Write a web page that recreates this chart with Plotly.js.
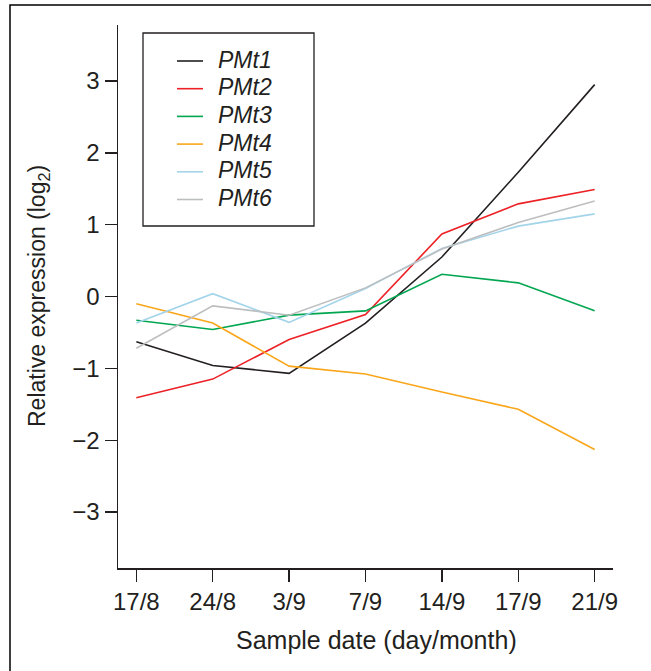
<!DOCTYPE html>
<html>
<head>
<meta charset="utf-8">
<script src="https://cdn.plot.ly/plotly-3.0.1.min.js"></script>
<style>html,body{margin:0;padding:0;background:#fff;}#chart{width:651px;height:671px;}</style>
</head>
<body>
<div id="chart"></div>
<script>
// ---- data ----
const dates = ["17/8", "24/8", "3/9", "7/9", "14/9", "17/9", "21/9"];
const seriesNames = ["PMt1", "PMt2", "PMt3", "PMt4", "PMt5", "PMt6"];
const PMt1 = [-0.63, -0.96, -1.07, -0.37, 0.55, 1.73, 2.95];
const PMt2 = [-1.41, -1.15, -0.60, -0.25, 0.87, 1.29, 1.49];
const PMt3 = [-0.33, -0.46, -0.26, -0.20, 0.31, 0.19, -0.20];
const PMt4 = [-0.10, -0.37, -0.97, -1.08, -1.33, -1.57, -2.13];
const PMt5 = [-0.37, 0.04, -0.36, 0.11, 0.67, 0.98, 1.15];
const PMt6 = [-0.72, -0.13, -0.26, 0.12, 0.66, 1.03, 1.33];
const yTickVals = [-3, -2, -1, 0, 1, 2, 3];
const yTickText = ["\u22123", "\u22122", "\u22121", "0", "1", "2", "3"];

const seriesValues = [PMt1, PMt2, PMt3, PMt4, PMt5, PMt6];
const colors = ["#231f20", "#ec2227", "#00a650", "#f9a61b", "#a3d4ea", "#bcbec0"];

// ---- geometry helpers (pixel -> paper) ----
const W = 651, H = 671;
const M = {l: 118, r: 38, t: 25, b: 103};
const PW = W - M.l - M.r, PH = H - M.t - M.b;
const px = x => (x - M.l) / PW;
const py = y => (H - M.b - y) / PH;

const txtColor = "#231f20";
const fontFam = "Liberation Sans, Arial, sans-serif";

const traces = seriesValues.map((vals, i) => ({
  type: "scatter", mode: "lines", name: seriesNames[i],
  x: dates, y: vals,
  line: {color: colors[i], width: 1.6},
  showlegend: false
}));

const shapes = [
  // outer frame (left + top visible)
  {type: "rect", xref: "paper", yref: "paper", x0: px(10), x1: px(760), y0: py(5), y1: py(760),
   line: {color: "#000", width: 1.5}, layer: "below"},
  // legend box
  {type: "rect", xref: "paper", yref: "paper", x0: px(143), x1: px(314), y0: py(33), y1: py(226),
   line: {color: "#231f20", width: 1.3}}
];
const annotations = [];
seriesNames.forEach((n, i) => {
  const yy = 61 + i * 27.7;
  shapes.push({type: "line", xref: "paper", yref: "paper", x0: px(177), x1: px(203), y0: py(yy), y1: py(yy),
    line: {color: colors[i], width: 1.6}});
  annotations.push({xref: "paper", yref: "paper", x: px(216), y: py(yy - 1.5), xanchor: "left", yanchor: "middle",
    showarrow: false, text: "<i>" + n + "</i>", font: {family: fontFam, size: 23, color: txtColor}});
});
annotations.push({xref: "paper", yref: "paper", x: px(376), y: py(640), xanchor: "center", yanchor: "middle",
  showarrow: false, text: "Sample date (day/month)", font: {family: fontFam, size: 25, color: txtColor}});
annotations.push({xref: "paper", yref: "paper", x: px(39), y: py(296), xanchor: "center", yanchor: "middle",
  textangle: -90, showarrow: false, text: "Relative expression (log<sub>2</sub>)",
  font: {family: fontFam, size: 23, color: txtColor}});

const layout = {
  width: W, height: H,
  margin: M,
  paper_bgcolor: "#fff", plot_bgcolor: "#fff",
  showlegend: false,
  font: {family: fontFam, color: txtColor},
  xaxis: {
    type: "category", range: [-0.24, 6.24],
    showgrid: false, zeroline: false, showline: true, linecolor: txtColor, linewidth: 1.5,
    ticks: "outside", ticklen: 12, tickwidth: 1.3, tickcolor: txtColor,
    tickfont: {family: fontFam, size: 24, color: txtColor}
  },
  yaxis: {
    range: [-3.78, 3.78],
    tickvals: yTickVals, ticktext: yTickText,
    showgrid: false, zeroline: false, showline: true, linecolor: txtColor, linewidth: 1.5,
    ticks: "outside", ticklen: 12, tickwidth: 1.3, tickcolor: txtColor,
    tickfont: {family: fontFam, size: 24, color: txtColor}
  },
  shapes: shapes,
  annotations: annotations
};

Plotly.newPlot("chart", traces, layout, {displayModeBar: false, staticPlot: true});
</script>
</body>
</html>
